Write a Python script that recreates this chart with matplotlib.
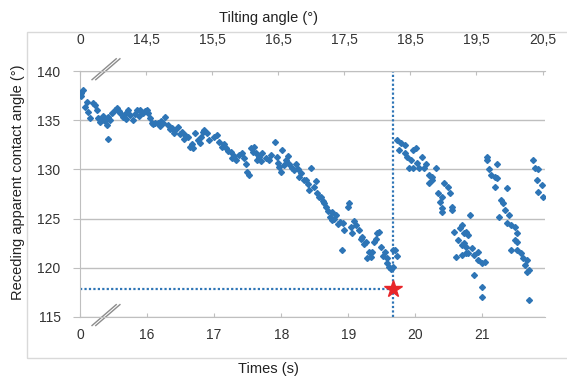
import matplotlib
matplotlib.use("Agg")
from matplotlib import pyplot as plt
from matplotlib.lines import Line2D
from matplotlib.patches import Rectangle

plt.rcParams["font.family"] = ["Liberation Sans", "DejaVu Sans"]

# Tiempo (s) y angulo de contacto (grados)
time_s = [
    15.00, 15.01, 15.04, 15.02, 15.07, 15.10, 15.12, 15.15, 15.19, 15.22, 15.25, 15.27,
    15.30, 15.33, 15.35, 15.37, 15.40, 15.42, 15.42, 15.45, 15.48, 15.52, 15.55, 15.58,
    15.60, 15.64, 15.67, 15.69, 15.72, 15.75, 15.79, 15.82, 15.85, 15.88, 15.90, 15.94,
    15.97, 16.00, 16.01, 16.04, 16.07, 16.09, 16.12, 16.16, 16.19, 16.21, 16.24, 16.27,
    16.31, 16.34, 16.37, 16.40, 16.42, 16.46, 16.49, 16.52, 16.55, 16.57, 16.61, 16.64,
    16.67, 16.69, 16.72, 16.76, 16.79, 16.81, 16.84,
    16.85, 16.90, 16.93, 17.00, 17.04, 17.07, 17.12, 17.15, 17.18, 17.21, 17.25, 17.27,
    17.30, 17.33, 17.37, 17.42, 17.45, 17.48, 17.49, 17.52, 17.55, 17.58, 17.60, 17.63,
    17.64, 17.67, 17.70, 17.72, 17.78, 17.82, 17.85, 17.90, 17.93, 17.95, 17.97, 18.00,
    18.01, 18.04, 18.07, 18.10, 18.12, 18.16, 18.19, 18.22, 18.25, 18.27, 18.30, 18.34,
    18.37, 18.40, 18.42, 18.45, 18.49, 18.52, 18.54, 18.57, 18.60, 18.62, 18.64, 18.67,
    18.70, 18.72, 18.75, 18.76, 18.79, 18.82, 18.85, 18.87, 18.90, 18.92, 18.94, 18.99,
    19.01, 19.04, 19.06, 19.08, 19.12, 19.16, 19.19, 19.21, 19.24, 19.27, 19.28, 19.31,
    19.34, 19.36, 19.39, 19.41, 19.43, 19.46, 19.49, 19.52, 19.54, 19.57, 19.58, 19.61,
    19.63, 19.66, 19.67, 19.69, 19.72,
    19.73, 19.79, 19.84, 19.76, 19.84, 19.88, 19.96, 20.01, 19.94, 19.91, 19.96, 20.03,
    20.06, 20.10, 20.13, 20.16, 20.21, 20.21, 20.24, 20.25, 20.31, 20.33, 20.40, 20.43,
    20.48, 20.51, 20.36, 20.39, 20.40, 20.54, 20.55, 20.81, 20.58, 20.66, 20.70, 20.73,
    20.63, 20.69, 20.73, 20.61, 20.69, 20.76, 20.76, 20.78, 20.76, 20.85, 20.93, 20.78,
    20.88, 20.93, 21.00, 21.03, 20.88, 20.99, 21.00,
    21.06, 21.07, 21.21, 21.10, 21.13, 21.18, 21.22, 21.18, 21.36, 21.28, 21.30, 21.33,
    21.25, 21.40, 21.37, 21.43, 21.48, 21.51, 21.48, 21.52, 21.43, 21.52, 21.58, 21.60,
    21.66, 21.63, 21.67, 21.70, 21.70,
    21.75, 21.78, 21.82, 21.81, 21.88, 21.82, 21.90,
]
angle = [
    137.6, 137.8, 138.1, 137.5, 136.3, 136.9, 135.8, 135.2, 136.8, 136.5, 136.0, 135.2,
    134.8, 135.0, 135.4, 134.9, 134.5, 133.1, 135.3, 135.0, 135.7, 136.0, 136.2, 135.9,
    135.7, 135.3, 135.6, 135.1, 136.0, 135.5, 135.0, 135.6, 136.0, 135.4, 136.0, 135.7,
    135.9, 136.0, 135.7, 135.2, 134.7, 134.6, 134.7, 134.7, 134.4, 134.9, 134.7, 135.3,
    134.5, 134.1, 134.2, 133.7, 134.0, 134.3, 133.6, 133.8, 133.1, 133.5, 133.3, 132.3,
    132.6, 132.2, 133.7, 133.0, 132.7, 133.3, 133.8,
    134.0, 133.7, 133.0, 133.3, 133.5, 132.8, 132.3, 132.6, 132.2, 131.9, 131.8, 131.2,
    131.4, 131.0, 131.5, 131.7, 131.2, 130.6, 129.7, 129.4, 132.2, 131.8, 132.3, 131.7,
    131.0, 131.3, 130.9, 131.7, 131.2, 131.0, 131.5, 132.8, 131.3, 130.7, 130.2, 129.7,
    132.0, 130.4, 131.0, 131.4, 130.5, 130.1, 129.9, 130.6, 130.0, 129.2, 129.6, 128.9,
    128.9, 128.5, 127.9, 130.1, 128.2, 128.8, 127.6, 127.2, 127.2, 126.8, 126.6, 126.2,
    125.8, 125.2, 124.9, 125.7, 125.0, 125.4, 124.4, 124.7, 121.8, 124.6, 123.8, 126.2,
    126.6, 124.1, 123.5, 124.8, 124.3, 123.8, 122.9, 123.1, 122.4, 122.6, 121.0, 121.6,
    121.1, 121.6, 122.6, 122.9, 123.5, 123.6, 122.1, 121.2, 121.6, 121.0, 120.5, 120.1,
    119.9, 120.1, 121.8, 121.8, 121.2,
    133.0, 132.7, 132.5, 132.0, 131.7, 131.3, 132.0, 132.2, 131.0, 130.1, 130.1, 130.7,
    130.1, 131.3, 130.1, 130.6, 129.4, 128.6, 128.9, 129.2, 130.1, 127.6, 127.2, 128.6,
    128.2, 127.6, 126.7, 126.1, 125.7, 126.2, 125.9, 125.4, 123.6, 124.0, 124.3, 123.5,
    122.8, 122.3, 122.5, 121.1, 121.3, 121.5, 123.6, 123.3, 122.1, 122.0, 121.6, 121.5,
    121.3, 120.8, 120.5, 120.6, 119.3, 118.0, 117.0,
    131.3, 131.0, 130.5, 130.0, 129.4, 129.2, 129.1, 128.2, 128.1, 126.9, 126.6, 125.9,
    125.2, 125.4, 124.6, 124.3, 124.1, 123.5, 122.8, 122.6, 121.8, 121.8, 121.5, 121.0,
    120.8, 120.3, 119.6, 119.8, 116.7,
    131.0, 130.1, 130.0, 128.9, 128.4, 127.7, 127.2,
]

# Punto de deslizamiento marcado con la estrella
t_slide = 19.66
angle_slide = 117.8

x_ticks = [15, 16, 17, 18, 19, 20, 21]
x_labels = ["0", "16", "17", "18", "19", "20", "21"]
tilt_ticks = [13.5, 14.5, 15.5, 16.5, 17.5, 18.5, 19.5, 20.5]
tilt_labels = ["0", "14,5", "15,5", "16,5", "17,5", "18,5", "19,5", "20,5"]
y_ticks = [115, 120, 125, 130, 135, 140]

blue = "#2E75B6"
gray = "#BFBFBF"
txt = "#333333"

fig = plt.figure(figsize=(5.67, 3.8), dpi=100)
fig.patches.append(Rectangle((0.048, 0.058), 1.0, 0.858, transform=fig.transFigure,
                             fill=False, edgecolor="#D9D9D9", linewidth=1))
ax = fig.add_axes([0.141, 0.166, 0.820, 0.647])

ax.plot(time_s, angle, ls="none", marker="D", ms=3, color=blue, zorder=3)
ax.plot([15, t_slide], [angle_slide, angle_slide], ls=(0, (1, 1)), lw=1.6, color=blue, zorder=2)
ax.axvline(t_slide, ls=(0, (1, 1)), lw=1.6, color=blue, zorder=2)
ax.plot(t_slide, angle_slide, marker="*", ms=13, color="#E8262A", ls="none", zorder=4)

ax.set_xlim(15, 21.93)
ax.set_ylim(115, 140)
ax.set_xticks(x_ticks)
ax.set_xticklabels(x_labels)
ax.set_yticks(y_ticks)
ax.yaxis.grid(True, color=gray, lw=1)
ax.set_axisbelow(True)
for s in ["left", "bottom", "top"]:
    ax.spines[s].set_color(gray)
ax.spines["right"].set_visible(False)
ax.tick_params(axis="x", direction="in", length=3, color=gray, labelsize=10, labelcolor=txt, pad=8)
ax.tick_params(axis="y", direction="out", length=5, color=gray, labelsize=10, labelcolor=txt, pad=9)

top = ax.twiny()
top.set_xlim(13.5, 13.5 + (21.93 - 15) * 67 / 66)
top.set_xticks(tilt_ticks)
top.set_xticklabels(tilt_labels)
for s in top.spines.values():
    s.set_visible(False)
top.tick_params(axis="x", direction="in", length=3, color=gray, labelsize=10, labelcolor=txt, pad=17)

# marcas de corte del eje
for dx in (0.0, 0.008):
    for y0 in (0.0, 1.0):
        ax.add_line(Line2D([0.026 + dx, 0.078 + dx], [y0 - 0.035, y0 + 0.05], transform=ax.transAxes,
                           color="#8C8C8C", lw=1, clip_on=False))

fig.text(0.473, 0.952, "Tilting angle (°)", ha="center", va="center", fontsize=10.5, color="#222222")
fig.text(0.473, 0.028, "Times (s)", ha="center", va="center", fontsize=10.5, color="#222222")
fig.text(0.032, 0.52, "Receding apparent contact angle (°)", rotation=90, ha="center", va="center",
         fontsize=10.5, color="#222222")

fig.savefig("out.png", dpi=100)
